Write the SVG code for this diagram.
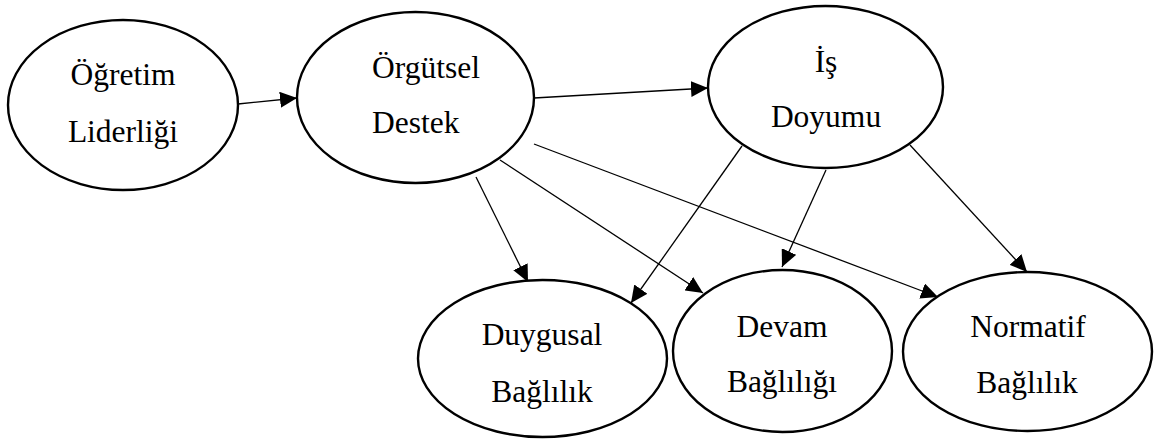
<svg xmlns="http://www.w3.org/2000/svg" width="1154" height="439" viewBox="0 0 1154 439">
  <style>
    .node ellipse { fill: #ffffff; stroke: #000000; stroke-width: 2.4; }
    .node text { font-family: "Liberation Serif", "Times New Roman", serif; font-size: 31.5px; fill: #000000; text-anchor: middle; }
    .edge { stroke: #000000; stroke-width: 1.3; fill: none; marker-end: url(#arrow); }
  </style>
  <defs>
    <marker id="arrow" markerUnits="userSpaceOnUse" markerWidth="17" markerHeight="16" refX="17" refY="8" orient="auto">
      <path d="M0,0 L17,8 L0,16 z" fill="#000000"/>
    </marker>
  </defs>

  <!-- connectors -->
  <g id="connectors">
    <line class="edge" x1="238" y1="104" x2="297" y2="98"/>
    <line class="edge" x1="534" y1="98" x2="708" y2="88"/>
    <line class="edge" x1="476" y1="177" x2="528" y2="282"/>
    <line class="edge" x1="500" y1="160" x2="703" y2="293"/>
    <line class="edge" x1="534" y1="144" x2="938" y2="297"/>
    <line class="edge" x1="742" y1="146" x2="631" y2="303"/>
    <line class="edge" x1="826" y1="170" x2="782" y2="267"/>
    <line class="edge" x1="910" y1="145" x2="1027" y2="272"/>
  </g>

  <g id="ogretim-liderligi" class="node">
    <ellipse cx="123" cy="105" rx="115" ry="85"/>
    <text x="123" y="85">Öğretim</text>
    <text x="123" y="142">Liderliği</text>
  </g>

  <g id="orgutsel-destek" class="node">
    <ellipse cx="415.5" cy="97.5" rx="118.5" ry="85.5"/>
    <text x="372" y="78" style="text-anchor:start">Örgütsel</text>
    <text x="372" y="133" style="text-anchor:start">Destek</text>
  </g>

  <g id="is-doyumu" class="node">
    <ellipse cx="825.5" cy="87" rx="117.5" ry="81"/>
    <text x="826" y="72">İş</text>
    <text x="826" y="127">Doyumu</text>
  </g>

  <g id="duygusal-baglilik" class="node">
    <ellipse cx="542.5" cy="358.5" rx="124.5" ry="78.5"/>
    <text x="542" y="345">Duygusal</text>
    <text x="542" y="402">Bağlılık</text>
  </g>

  <g id="devam-bagliligi" class="node">
    <ellipse cx="782.5" cy="351" rx="109.5" ry="81"/>
    <text x="782" y="337">Devam</text>
    <text x="782" y="392">Bağlılığı</text>
  </g>

  <g id="normatif-baglilik" class="node">
    <ellipse cx="1027.5" cy="351.5" rx="124.5" ry="79.5"/>
    <text x="1028" y="337">Normatif</text>
    <text x="1027" y="393">Bağlılık</text>
  </g>
</svg>
